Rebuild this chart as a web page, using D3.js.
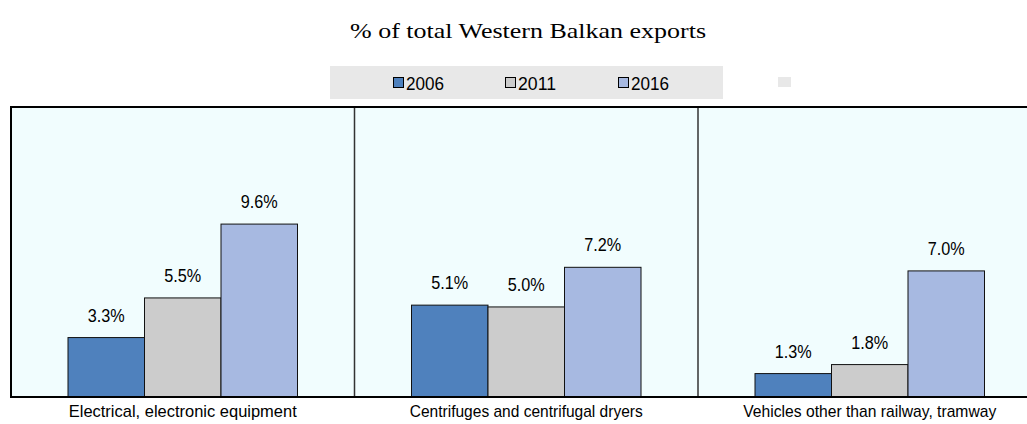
<!DOCTYPE html>
<html>
<head>
<meta charset="utf-8">
<script src="https://cdn.jsdelivr.net/npm/d3@7"></script>
<style>
  body { margin: 0; background: #fff; }
  svg { display: block; }
</style>
</head>
<body>
<svg id="chart" width="1027" height="424"></svg>
<script>
const categories = ["Electrical, electronic equipment", "Centrifuges and centrifugal dryers", "Vehicles other than railway, tramway"];
const years = ["2006", "2011", "2016"];
const values2006 = [3.3, 5.1, 1.3];
const values2011 = [5.5, 5.0, 1.8];
const values2016 = [9.6, 7.2, 7.0];
const colors = ["#4f81bd", "#cccccc", "#a7b9e1"];

const series = [values2006, values2011, values2016];

const svg = d3.select("#chart");
const margin = { top: 107, left: 11, bottom: 27 },
  panelW = 343.5,
  width = panelW * categories.length,
  height = 424 - margin.top - margin.bottom;

const x0 = d3.scaleBand().domain(categories).range([0, width]);
const x1 = d3.scaleBand().domain(years).range([57, panelW - 57]);
const y = d3.scaleLinear().domain([0, 16.1]).range([height, 0]);

const sans = "'Liberation Sans', Arial, sans-serif";

// title
svg.append("text")
  .attr("x", 528).attr("y", 38)
  .attr("text-anchor", "middle")
  .style("font-family", "'Liberation Serif', 'Times New Roman', serif")
  .style("font-size", "22px")
  .attr("textLength", 356).attr("lengthAdjust", "spacingAndGlyphs")
  .text("% of total Western Balkan exports");

// legend
const legend = svg.append("g");
legend.append("rect").attr("x", 330).attr("y", 66).attr("width", 393).attr("height", 33).attr("fill", "#e8e8e8");
legend.append("rect").attr("x", 778).attr("y", 77).attr("width", 13).attr("height", 10).attr("fill", "#e8e8e8");
const legendX = [393, 505, 618];
years.forEach((yr, i) => {
  legend.append("rect")
    .attr("x", legendX[i] + 0.5).attr("y", 77.5)
    .attr("width", 10).attr("height", 10)
    .attr("fill", colors[i]).attr("stroke", "#000").attr("stroke-width", 1);
  legend.append("text")
    .attr("x", legendX[i] + 13).attr("y", 90)
    .style("font-family", sans)
    .style("font-size", "18px")
    .attr("textLength", 38).attr("lengthAdjust", "spacingAndGlyphs")
    .text(yr);
});

const g = svg.append("g").attr("transform", `translate(${margin.left},${margin.top})`);

g.append("rect").attr("width", width).attr("height", height).attr("fill", "#f1fdfe");

// panel dividers
g.selectAll(".divider")
  .data(categories.slice(1))
  .enter().append("line")
  .attr("x1", d => x0(d)).attr("x2", d => x0(d))
  .attr("y1", 0).attr("y2", height)
  .attr("stroke", "#333").attr("stroke-width", 1.5);

const groups = g.selectAll(".grp")
  .data(categories)
  .enter().append("g")
  .attr("transform", d => `translate(${x0(d)},0)`);

groups.each(function (cat, ci) {
  const grp = d3.select(this);
  years.forEach((yr, si) => {
    const v = series[si][ci];
    grp.append("rect")
      .attr("x", x1(yr)).attr("y", y(v))
      .attr("width", x1.bandwidth()).attr("height", height - y(v))
      .attr("fill", colors[si]).attr("stroke", "#111").attr("stroke-width", 1);
    grp.append("text")
      .attr("x", x1(yr) + x1.bandwidth() / 2).attr("y", y(v) - 16)
      .attr("text-anchor", "middle")
      .style("font-family", sans)
      .style("font-size", "18px")
      .attr("textLength", 37).attr("lengthAdjust", "spacingAndGlyphs")
      .text(v.toFixed(1) + "%");
  });
});

// frame
g.append("rect").attr("width", width).attr("height", height)
  .attr("fill", "none").attr("stroke", "#000").attr("stroke-width", 2);

// category labels
const labelW = [228, 233, 253];
g.selectAll(".cat")
  .data(categories)
  .enter().append("text")
  .attr("x", d => x0(d) + panelW / 2)
  .attr("y", height + 20)
  .attr("text-anchor", "middle")
  .style("font-family", sans)
  .style("font-size", "17px")
  .attr("textLength", (d, i) => labelW[i]).attr("lengthAdjust", "spacingAndGlyphs")
  .text(d => d);
</script>
</body>
</html>
